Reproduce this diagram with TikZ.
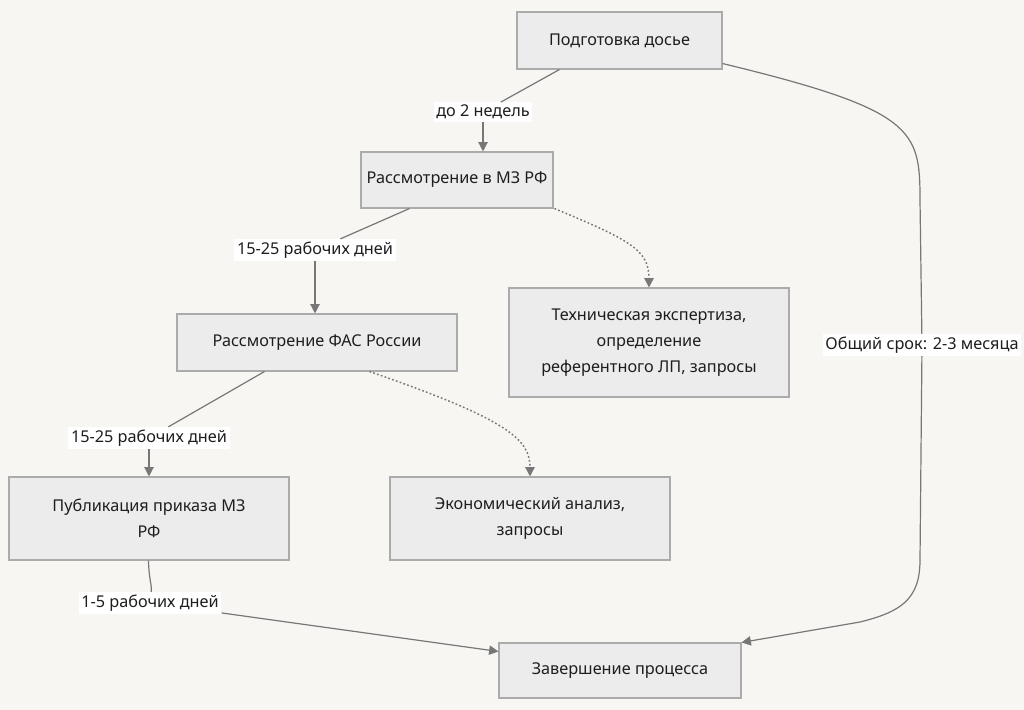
\documentclass[tikz,border=0pt]{standalone}
\usepackage{fontspec}
\setmainfont{Noto Sans}
\usetikzlibrary{positioning, calc, arrows.meta}
\definecolor{bg}{HTML}{F7F6F3}
\definecolor{boxfill}{HTML}{ECECEC}
\definecolor{boxline}{HTML}{ABABAB}
\definecolor{edgecol}{HTML}{777777}
\definecolor{txt}{HTML}{1E1E1E}

\begin{document}
\begin{tikzpicture}[x=0.75pt, y=-0.75pt, font=\fontsize{12.2}{19.5}\selectfont, text=txt,
		box/.style={draw=boxline, fill=boxfill, line width=0.8pt, align=center, inner sep=0pt},
		wide/.style={box, minimum width=210pt},
		lbl/.style={fill=white, inner sep=2pt},
		flow/.style={draw=edgecol, line width=0.9pt},
		arr/.style={flow, -{Triangle[length=7pt, width=7pt]}},
		dots/.style={arr, line width=1.1pt, dash pattern=on 1.3pt off 1.7pt}]
		\fill[bg] (0,0) rectangle (1024,710);
		\useasboundingbox (0,0) rectangle (1024,710);

		%Блоки:
		\node[box, minimum width=153.75pt, minimum height=42.75pt]	(dossier)	at (619.5,40.5)	{Подготовка досье};
		\node[box, minimum width=144pt, minimum height=42pt]		(mzrf)		at (457,180)	{Рассмотрение в МЗ РФ};
		\node[wide, minimum height=42.75pt]							(fas)		at (317,342.5)	{Рассмотрение ФАС России};
		\node[wide, minimum height=81.75pt]							(expert)	at (649,342.5)	{Техническая экспертиза,\\определение\\референтного ЛП, запросы};
		\node[wide, minimum height=62.25pt]							(pub)		at (149,518.5)	{Публикация приказа МЗ\\РФ};
		\node[wide, minimum height=62.25pt]							(econ)		at (530,518.5)	{Экономический анализ,\\запросы};
		\node[box, minimum width=181.5pt, minimum height=41.25pt]	(finish)	at (620,670.5)	{Завершение процесса};

		%Подписи сроков:
		\node[lbl] (t1) at (483,112) {до 2 недель};
		\node[lbl] (t2) at (315,250) {15-25 рабочих дней};
		\node[lbl] (t3) at (149,438) {15-25 рабочих дней};
		\node[lbl] (t4) at (150,603) {1-5 рабочих дней};
		\node[lbl] (t5) at (922,345) {Общий срок: 2-3 месяца};

		%Переходы:
		\draw[flow] ($(dossier.south west)+(43,0)$) -- (t1);
		\draw[arr] (t1) -- (t1 |- mzrf.north);
		\draw[flow] ($(mzrf.south west)+(49,0)$) -- (t2);
		\draw[arr] (t2) -- (t2 |- fas.north);
		\draw[dots] ($(mzrf.south west)+(194,0)$) .. controls (630,240) and (649,250) .. (expert.north);
		\draw[flow] ($(fas.south west)+(88,0)$) -- (t3);
		\draw[arr] (t3) -- (t3 |- pub.north);
		\draw[dots] ($(fas.south west)+(193,0)$) .. controls (510,420) and (530,440) .. (econ.north);
		\draw[flow] ($(pub.south west)+(140,0)$) .. controls (149,580) and (152,585) .. (t4);
		\draw[arr] (t4) -- ($(finish.north west)+(0,9)$);
		\coordinate (bend) at (920,560);
		\draw[flow] ($(dossier.south east)+(0,-6)$) .. controls (915,110) and (920,130) .. (920,200) -- (t5);
		\draw[arr] (t5) -- (bend) .. controls (920,600) and (900,612) .. (860,622) -- (finish.north east);
	\end{tikzpicture}
\end{document}
